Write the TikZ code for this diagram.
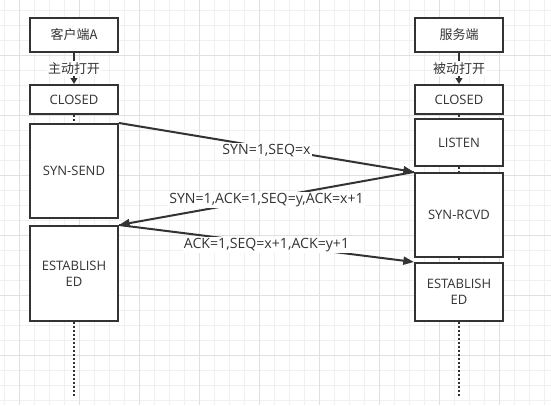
\documentclass[tikz,border=0pt]{standalone}
\usepackage{fontspec}
\setmainfont{Open Sans}
\newfontfamily\cjk{Noto Sans CJK SC}
\usetikzlibrary{arrows.meta}
\definecolor{ink}{RGB}{51,51,51}
\definecolor{gridminor}{RGB}{240,240,240}
\definecolor{gridmajor}{RGB}{224,224,224}
\tikzset{
  box/.style={draw=ink, line width=1.5pt, fill=white, text=ink, inner sep=0pt,
    minimum width=66pt, align=center, font=\fontsize{9.75}{12}\selectfont},
  msg/.style={draw=ink, line width=1.5pt, -{Triangle[length=8pt,width=6pt]}},
  msglabel/.style={fill=white, text=ink, inner sep=1pt, font=\fontsize{10.6}{12}\selectfont},
  life/.style={draw=ink, line width=1.5pt, dash pattern=on 1.5pt off 1.5pt},
  openarrow/.style={draw=ink, line width=1.5pt, -{Triangle[length=4.5pt,width=5pt]}},
  openlabel/.style={fill=white, text=ink, inner sep=1pt, font=\cjk\fontsize{9.75}{12}\selectfont},
}
\begin{document}
\begin{tikzpicture}[x=0.75pt,y=-0.75pt]
\useasboundingbox (0,0) rectangle (551,405);
\fill[white] (0,0) rectangle (551,405);
% grid
\foreach \gx in {4,19,...,550} \draw[gridminor, line width=0.6pt] (\gx,0) -- (\gx,405);
\foreach \gy in {10,25,...,404} \draw[gridminor, line width=0.6pt] (0,\gy) -- (551,\gy);
\foreach \gx in {19,79,...,550} \draw[gridmajor, line width=0.6pt] (\gx,0) -- (\gx,405);
\foreach \gy in {55,115,...,404} \draw[gridmajor, line width=0.6pt] (0,\gy) -- (551,\gy);
% client
\node[box, minimum height=25.5pt, font=\cjk\fontsize{9.75}{12}\selectfont] (hA) at (74,35) {客户端A};
\node[box, minimum height=21.75pt] (cA) at (74,99.5) {CLOSED};
\node[box, minimum height=70.5pt] (ssA) at (74,171) {SYN-SEND};
\node[box, minimum height=71.25pt] (eA) at (74,273.5) {ESTABLISH\\ED};
\coordinate (endA) at (74,397);
% server
\node[box, minimum height=25.5pt, font=\cjk\fontsize{9.75}{12}\selectfont] (hB) at (459,35) {服务端};
\node[box, minimum height=21.75pt] (cB) at (459,99.5) {CLOSED};
\node[box, minimum height=35.25pt] (lB) at (459,142.5) {LISTEN};
\node[box, minimum height=63pt] (rB) at (459,215) {SYN-RCVD};
\node[box, minimum height=43.5pt] (eB) at (459,292) {ESTABLISH\\ED};
\coordinate (endB) at (459,398);
% open arrows
\draw[openarrow] (hA.south) -- node[openlabel] {主动打开} (cA.north);
\draw[openarrow] (hB.south) -- node[openlabel] {被动打开} (cB.north);
% lifelines
\draw[life] (cA.south) -- (ssA.north);
\draw[life] (eA.south) -- (endA);
\draw[life] (cB.south) -- (lB.north);
\draw[life] (lB.south) -- (rB.north);
\draw[life] (rB.south) -- (eB.north);
\draw[life] (eB.south) -- (endB);
% messages
\draw[msg] (ssA.north east) -- node[msglabel, yshift=-2pt] {SYN=1,SEQ=x} (rB.north west);
\draw[msg] (rB.north west) -- node[msglabel, yshift=-1pt] {SYN=1,ACK=1,SEQ=y,ACK=x+1} (eA.north east);
\draw[msg] (eA.north east) -- node[msglabel, yshift=-1pt] {ACK=1,SEQ=x+1,ACK=y+1} (eB.north west);
\end{tikzpicture}
\end{document}
